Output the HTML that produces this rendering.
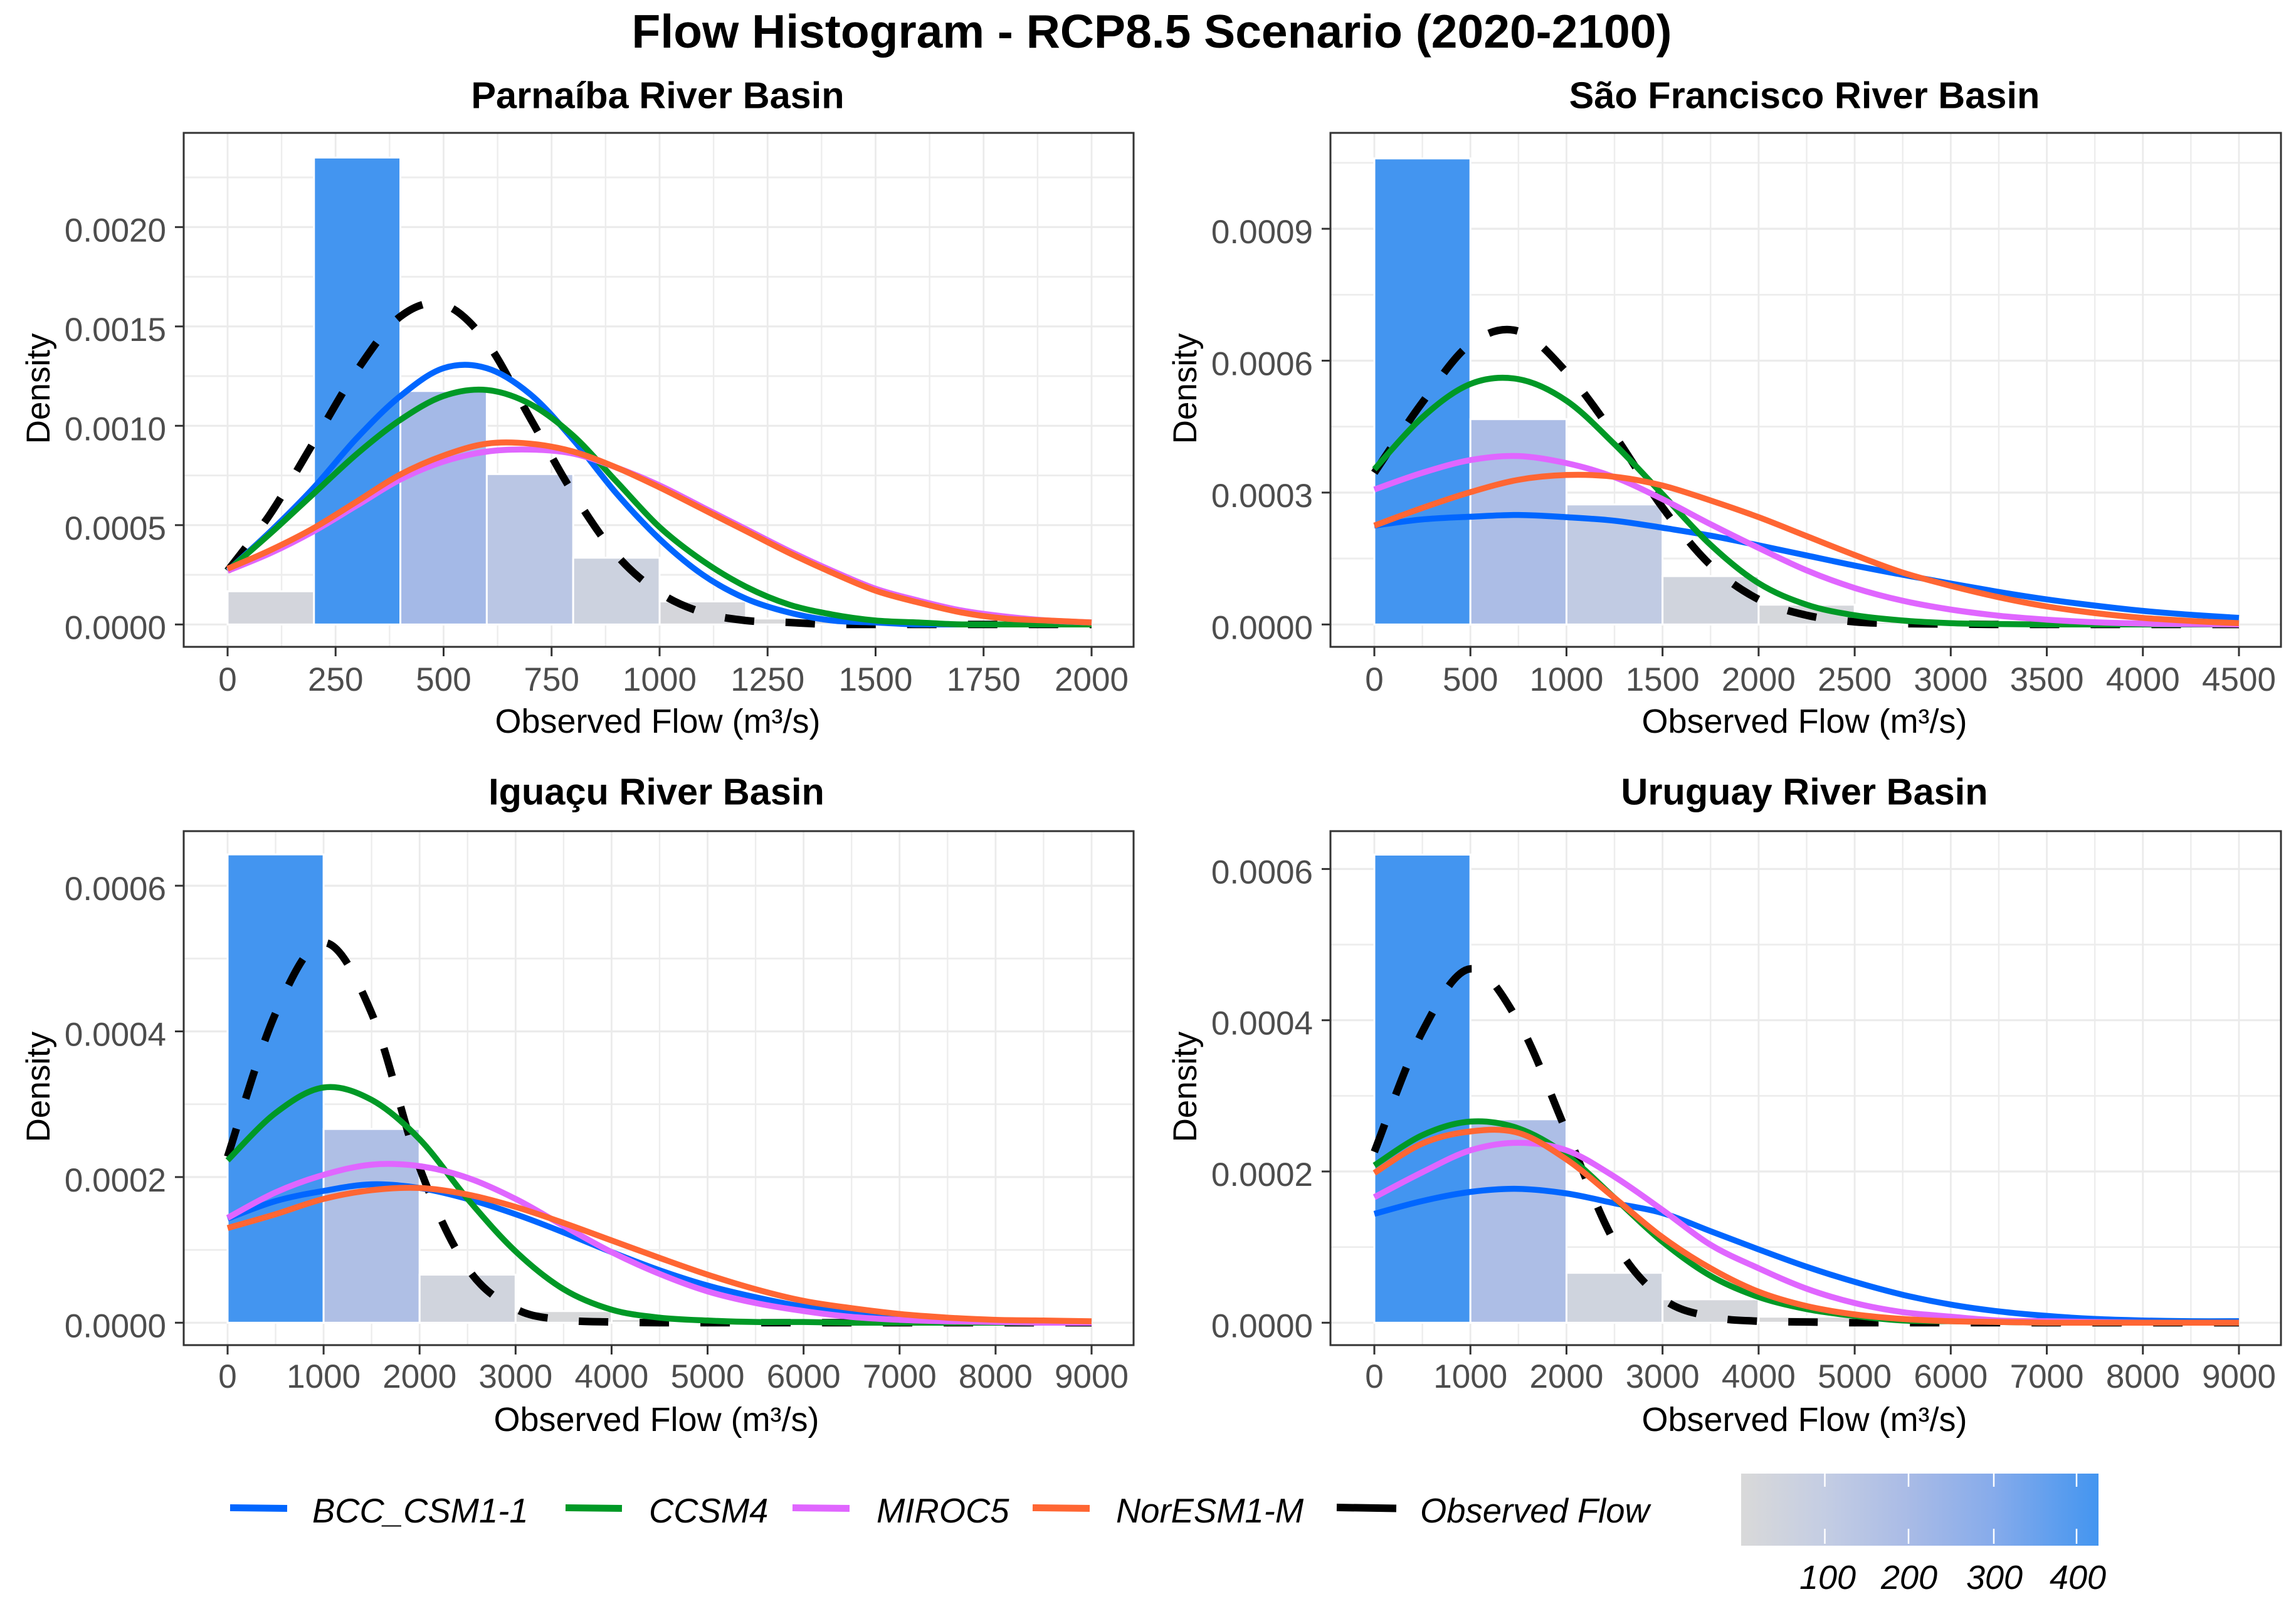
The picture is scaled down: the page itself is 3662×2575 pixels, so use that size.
<!DOCTYPE html>
<html lang="en">
<head>
<meta charset="utf-8">
<title>Flow Histogram - RCP8.5 Scenario (2020-2100)</title>
<style>
html,body{margin:0;padding:0;background:#fff;width:3662px;height:2575px;overflow:hidden}
svg{display:block}
text{font-family:"Liberation Sans",sans-serif}
</style>
</head>
<body>
<svg id="chart" xmlns="http://www.w3.org/2000/svg" width="3662" height="2575" viewBox="0 0 3662 2575">
<defs>
<linearGradient id="fillGrad" x1="0" x2="1" y1="0" y2="0">
<stop offset="0" stop-color="#D9D9D9"/>
<stop offset="0.233" stop-color="#C4CDE3"/>
<stop offset="0.468" stop-color="#A9BBE6"/>
<stop offset="0.707" stop-color="#86ABEB"/>
<stop offset="1" stop-color="#4395F0"/>
</linearGradient>
</defs>
<rect x="0" y="0" width="3662" height="2575" fill="#fff"/>
<text x="1837" y="76" font-size="75" font-weight="bold" text-anchor="middle" fill="#000">Flow Histogram - RCP8.5 Scenario (2020-2100)</text>

<g>
<line x1="367" x2="458" y1="2405.5" y2="2406.5" stroke="#0066FF" stroke-width="11"/>
<text x="498" y="2429" font-size="54.4" font-style="italic" fill="#000">BCC_CSM1-1</text>
<line x1="902" x2="992" y1="2405.5" y2="2406.5" stroke="#009926" stroke-width="11"/>
<text x="1035" y="2429" font-size="54.4" font-style="italic" fill="#000">CCSM4</text>
<line x1="1264" x2="1355" y1="2405.5" y2="2406.5" stroke="#E066FF" stroke-width="11"/>
<text x="1398" y="2429" font-size="54.4" font-style="italic" fill="#000">MIROC5</text>
<line x1="1647" x2="1738" y1="2405.5" y2="2406.5" stroke="#FF6633" stroke-width="11"/>
<text x="1780" y="2429" font-size="54.4" font-style="italic" fill="#000">NorESM1-M</text>
<line x1="2132" x2="2227" y1="2405" y2="2406.5" stroke="#000" stroke-width="12"/>
<text x="2265" y="2429" font-size="54.4" font-style="italic" fill="#000">Observed Flow</text>
</g>

<g>
<rect x="2777" y="2351" width="570" height="115" fill="url(#fillGrad)"/>
<line x1="2910.5" x2="2910.5" y1="2351" y2="2372" stroke="#fff" stroke-width="2.5"/>
<line x1="2910.5" x2="2910.5" y1="2439" y2="2463" stroke="#fff" stroke-width="2.5"/>
<line x1="3044" x2="3044" y1="2351" y2="2372" stroke="#fff" stroke-width="2.5"/>
<line x1="3044" x2="3044" y1="2439" y2="2463" stroke="#fff" stroke-width="2.5"/>
<line x1="3180" x2="3180" y1="2351" y2="2372" stroke="#fff" stroke-width="2.5"/>
<line x1="3180" x2="3180" y1="2439" y2="2463" stroke="#fff" stroke-width="2.5"/>
<line x1="3312" x2="3312" y1="2351" y2="2372" stroke="#fff" stroke-width="2.5"/>
<line x1="3312" x2="3312" y1="2439" y2="2463" stroke="#fff" stroke-width="2.5"/>
<text x="2915" y="2535" font-size="54" font-style="italic" text-anchor="middle" fill="#000">100</text>
<text x="3045" y="2535" font-size="54" font-style="italic" text-anchor="middle" fill="#000">200</text>
<text x="3181" y="2535" font-size="54" font-style="italic" text-anchor="middle" fill="#000">300</text>
<text x="3314" y="2535" font-size="54" font-style="italic" text-anchor="middle" fill="#000">400</text>
</g>
</svg>

<script>
// ---------- Parnaíba ----------
const parnaibaXTicks = [0,250,500,750,1000,1250,1500,1750,2000];
const parnaibaYTicks = ["0.0000","0.0005","0.0010","0.0015","0.0020"];
const parnaibaBinWidth = [200];
const parnaibaBins = [0.000167,0.00235,0.001175,0.000757,0.000336,0.000116,0.00003,0.000006];
const parnaibaFlow = [0,100,200,300,400,500,600,700,800,900,1000,1100,1200,1300,1400,1500,1600,1700,1800,1900,2000];
const parnaibaBcc = [0.00027,0.00047,0.00069,0.00094,0.00115,0.00129,0.00129,0.00116,0.00093,0.00066,0.00043,0.00025,0.00013,0.00006,0.00002,0.00001,0,0,0,0,0];
const parnaibaCcsm = [0.00027,0.00046,0.00066,0.00086,0.00103,0.00115,0.00118,0.00111,0.00095,0.00072,0.00049,0.00032,0.00019,0.0001,0.00005,0.00002,0.00001,0,0,0,0];
const parnaibaMiroc = [0.00027,0.00036,0.00047,0.0006,0.00073,0.00082,0.00087,0.00088,0.00086,0.00079,0.0007,0.00059,0.00048,0.00037,0.00027,0.00018,0.00012,0.00007,0.00004,0.00002,0.00001];
const parnaibaNor = [0.00028,0.000375,0.000486,0.00062,0.000755,0.00085,0.00091,0.00091,0.00087,0.00079,0.00069,0.00058,0.00047,0.00036,0.00026,0.00017,0.00011,0.00006,0.00003,0.00002,0.00001];
const parnaibaObs = [0.00027,0.00056,0.00092,0.00128,0.00155,0.00161,0.00142,0.00104,0.00066,0.00035,0.00016,0.00006,0.00002,0.00001,0,0,0,0,0,0,0];

// ---------- São Francisco ----------
const saoXTicks = [0,500,1000,1500,2000,2500,3000,3500,4000,4500];
const saoYTicks = ["0.0000","0.0003","0.0006","0.0009"];
const saoBinWidth = [500];
const saoBins = [0.00106,0.000467,0.000273,0.00011,0.000045,0.000006];
const saoFlow = [0,250,500,750,1000,1250,1500,1750,2000,2250,2500,2750,3000,3250,3500,3750,4000,4250,4500];
const saoBcc = [0.000225,0.000239,0.000245,0.000249,0.000244,0.000236,0.00022,0.000202,0.00018,0.000157,0.000134,0.000113,0.000093,0.000074,0.000057,0.000043,0.000031,0.000022,0.000015];
const saoCcsm = [0.000353,0.000471,0.000547,0.000558,0.000509,0.00041,0.000296,0.000181,0.000094,0.000045,0.000021,0.000009,0.000003,0.000001,0,0,0,0,0];
const saoMiroc = [0.000307,0.000345,0.000374,0.000383,0.000367,0.000335,0.000285,0.000228,0.000174,0.000123,0.000083,0.000054,0.000034,0.00002,0.000011,0.000005,0.000002,0.000001,0];
const saoNor = [0.000225,0.000265,0.000301,0.000329,0.00034,0.000336,0.000316,0.000282,0.000244,0.000201,0.000158,0.000118,0.000088,0.000062,0.000041,0.000026,0.000015,0.000008,0.000003];
const saoObs = [0.000345,0.000505,0.000638,0.000667,0.000574,0.00043,0.000266,0.000135,0.000057,0.000021,0.000006,0.000002,0.000001,0,0,0,0,0,0];

// ---------- Iguaçu ----------
const iguacuXTicks = [0,1000,2000,3000,4000,5000,6000,7000,8000,9000];
const iguacuYTicks = ["0.0000","0.0002","0.0004","0.0006"];
const iguacuBinWidth = [1000];
const iguacuBins = [0.000643,0.000266,0.000066,0.000016,0.000005];
const iguacuFlow = [0,500,1000,1500,2000,2500,3000,3500,4000,4500,5000,5500,6000,6500,7000,7500,8000,8500,9000];
const iguacuBcc = [0.000143,0.000167,0.000181,0.00019,0.000185,0.00017,0.000149,0.000124,0.000097,0.000072,0.000051,0.000035,0.000022,0.000013,0.000007,0.000004,0.000002,0.000001,0];
const iguacuCcsm = [0.000223,0.000288,0.000323,0.000306,0.000252,0.00017,0.000098,0.000046,0.000018,0.000007,0.000003,0.000001,0.000001,0,0,0,0,0,0];
const iguacuMiroc = [0.000144,0.000179,0.000203,0.000217,0.000215,0.000199,0.00017,0.000133,0.000097,0.000067,0.000043,0.000027,0.000016,0.000008,0.000004,0.000002,0.000001,0,0];
const iguacuNor = [0.00013,0.000149,0.00017,0.000182,0.000185,0.000176,0.000159,0.000137,0.000113,0.000089,0.000066,0.000046,0.00003,0.00002,0.000012,0.000007,0.000004,0.000003,0.000002];
const iguacuObs = [0.000228,0.000425,0.000522,0.000425,0.000213,0.000075,0.000019,0.000004,0.000001,0,0,0,0,0,0,0,0,0,0];

// ---------- Uruguay ----------
const uruguayXTicks = [0,1000,2000,3000,4000,5000,6000,7000,8000,9000];
const uruguayYTicks = ["0.0000","0.0002","0.0004","0.0006"];
const uruguayBinWidth = [1000];
const uruguayBins = [0.000619,0.000269,0.000066,0.000031,0.000008,0.000002];
const uruguayFlow = [0,500,1000,1500,2000,2500,3000,3500,4000,4500,5000,5500,6000,6500,7000,7500,8000,8500,9000];
const uruguayBcc = [0.000144,0.000161,0.000173,0.000177,0.000171,0.000158,0.000145,0.000121,0.000097,0.000074,0.000054,0.000037,0.000024,0.000015,0.000009,0.000005,0.000003,0.000002,0.000002];
const uruguayCcsm = [0.000208,0.000248,0.000266,0.000257,0.000222,0.000165,0.000107,0.000062,0.000034,0.000018,0.000009,0.000003,0.000002,0.000001,0,0,0,0,0];
const uruguayMiroc = [0.000166,0.000199,0.000228,0.000238,0.000228,0.000193,0.000149,0.000103,0.000072,0.000045,0.000026,0.000014,0.000008,0.000003,0.000002,0.000001,0,0,0];
const uruguayNor = [0.000198,0.000237,0.000253,0.000251,0.000216,0.000165,0.000113,0.000072,0.000041,0.000022,0.000011,0.000005,0.000002,0.000001,0,0,0,0,0];
const uruguayObs = [0.000226,0.000385,0.000468,0.000398,0.000253,0.000107,0.000032,0.000008,0.000002,0.000001,0,0,0,0,0,0,0,0,0];

const NS = 'http://www.w3.org/2000/svg';
const svg = document.getElementById('chart');

function mk(parent, tag, attrs, txt) {
  const el = document.createElementNS(NS, tag);
  for (const k in attrs) el.setAttribute(k, attrs[k]);
  if (txt !== undefined) el.textContent = txt;
  parent.appendChild(el);
  return el;
}

// colour scale for histogram fill: same stops as the colour bar
const fillStops = [[0,[217,217,217]],[0.233,[196,205,227]],[0.468,[169,187,230]],[0.707,[134,171,235]],[1,[67,149,240]]];
function fillFor(t) {
  for (let i = 1; i < fillStops.length; i++) {
    if (t <= fillStops[i][0]) {
      const a = fillStops[i-1], b = fillStops[i];
      const f = (t - a[0]) / (b[0] - a[0]);
      const c = a[1].map((v, j) => Math.round(v + (b[1][j] - v) * f));
      return 'rgb(' + c.join(',') + ')';
    }
  }
  return 'rgb(67,149,240)';
}

// smooth path through the sampled points (Catmull-Rom, clamped at the zero line)
function curvePath(xs, ys, fx, fy) {
  const P = xs.map((x, i) => [fx(x), fy(ys[i])]);
  const floor = fy(0);
  let d = 'M' + P[0][0].toFixed(1) + ' ' + P[0][1].toFixed(1);
  for (let i = 0; i < P.length - 1; i++) {
    const p0 = P[Math.max(0, i-1)], p1 = P[i], p2 = P[i+1], p3 = P[Math.min(P.length-1, i+2)];
    const c1x = p1[0] + (p2[0]-p0[0]) / 6, c1y = Math.min(floor, p1[1] + (p2[1]-p0[1]) / 6);
    const c2x = p2[0] - (p3[0]-p1[0]) / 6, c2y = Math.min(floor, p2[1] - (p3[1]-p1[1]) / 6);
    d += 'C' + c1x.toFixed(1) + ' ' + c1y.toFixed(1) + ' ' + c2x.toFixed(1) + ' ' + c2y.toFixed(1) + ' ' + p2[0].toFixed(1) + ' ' + p2[1].toFixed(1);
  }
  return d;
}

function drawPanel(o) {
  const g = mk(svg, 'g', {});
  
  

  const xMax = o.xTicks[o.xTicks.length - 1];
  const fx = v => o.x0 + v / xMax * (o.xEnd - o.x0);
  const fy = v => o.y0 - v * o.yk;
  const yStep = parseFloat(o.yTicks[1]);

  // minor grid
  for (let i = 0; i < o.xTicks.length - 1; i++) {
    const xv = (o.xTicks[i] + o.xTicks[i+1]) / 2;
    const l = mk(g, 'line', {x1:fx(xv), x2:fx(xv), y1:o.top, y2:o.bottom, stroke:'#EDEDED', 'stroke-width':2.4});
    
    
  }
  for (let i = 0; i < o.yTicks.length + 1; i++) {
    const yv = (i + 0.5) * yStep;
    if (fy(yv) <= o.top) continue;
    const l = mk(g, 'line', {x1:o.left, x2:o.right, y1:fy(yv), y2:fy(yv), stroke:'#EDEDED', 'stroke-width':2.8});
    
    
  }
  // major grid
  o.xTicks.forEach(xv => {
    const l = mk(g, 'line', {x1:fx(xv), x2:fx(xv), y1:o.top, y2:o.bottom, stroke:'#EBEBEB', 'stroke-width':2.8});
    
    
  });
  o.yTicks.forEach(lbl => {
    const yv = parseFloat(lbl);
    const l = mk(g, 'line', {x1:o.left, x2:o.right, y1:fy(yv), y2:fy(yv), stroke:'#EBEBEB', 'stroke-width':3.2});
    
    
  });

  // histogram bars
  const maxBin = Math.max.apply(null, o.bins);
  o.bins.forEach((v, i) => {
    const x1 = fx(i * o.binWidth[0]), x2 = fx((i + 1) * o.binWidth[0]);
    const r = mk(g, 'rect', {x:x1, y:fy(v), width:x2 - x1, height:v * o.yk, fill:fillFor(v / maxBin), stroke:'#fff', 'stroke-width':3});
    
    
  });

  // observed density first, models on top
  const obs = mk(g, 'path', {d:curvePath(o.flow, o.series.obs, fx, fy), fill:'none', stroke:'#000', 'stroke-width':12, 'stroke-dasharray':'47 50', 'stroke-linejoin':'round'});
  
  
  const bcc = mk(g, 'path', {d:curvePath(o.flow, o.series.bcc, fx, fy), fill:'none', stroke:'#0066FF', 'stroke-width':9.5});
  
  
  const ccsm = mk(g, 'path', {d:curvePath(o.flow, o.series.ccsm, fx, fy), fill:'none', stroke:'#009926', 'stroke-width':9.5});
  
  
  const miroc = mk(g, 'path', {d:curvePath(o.flow, o.series.miroc, fx, fy), fill:'none', stroke:'#E066FF', 'stroke-width':9.5});
  
  
  const nor = mk(g, 'path', {d:curvePath(o.flow, o.series.nor, fx, fy), fill:'none', stroke:'#FF6633', 'stroke-width':9.5});
  
  

  // border
  const border = mk(g, 'rect', {x:o.left, y:o.top, width:o.right - o.left, height:o.bottom - o.top, fill:'none', stroke:'#333333', 'stroke-width':3});
  
  

  // x ticks and labels
  o.xTicks.forEach(xv => {
    const t = mk(g, 'line', {x1:fx(xv), x2:fx(xv), y1:o.bottom, y2:o.bottom + 15, stroke:'#333333', 'stroke-width':3});
    
    
    const lab = mk(g, 'text', {x:fx(xv), y:o.bottom + o.xLabelGap, 'font-size':53, 'text-anchor':'middle', fill:'#4D4D4D'}, String(xv));
    
    
  });
  // y ticks and labels
  o.yTicks.forEach(lbl => {
    const yv = parseFloat(lbl);
    const t = mk(g, 'line', {x1:o.left - 14, x2:o.left, y1:fy(yv), y2:fy(yv), stroke:'#333333', 'stroke-width':3});
    
    
    const lab = mk(g, 'text', {x:o.left - 28, y:fy(yv) + 23, 'font-size':53, 'text-anchor':'end', fill:'#4D4D4D'}, lbl);
    
    
  });

  // titles
  const title = mk(g, 'text', {x:o.cx, y:o.top - o.titleGap, 'font-size':59.5, 'font-weight':'bold', 'text-anchor':'middle', fill:'#000'}, o.title);
  
  
  const xt = mk(g, 'text', {x:o.cx, y:o.bottom + 137, 'font-size':54, 'text-anchor':'middle', fill:'#000'}, 'Observed Flow (m\u00B3/s)');
  
  
  const yx = o.left - 214, ym = (o.top + o.bottom) / 2 - 2;
  const yt = mk(g, 'text', {x:yx, y:ym, 'font-size':53, 'text-anchor':'middle', fill:'#000', transform:'rotate(-90 ' + yx + ' ' + ym + ')'}, 'Density');
  
  
}

drawPanel({id:'parnaiba', title:'Parna\u00EDba River Basin', left:293, right:1808, top:212, bottom:1032, x0:363, xEnd:1741, y0:996.3, yk:317000, cx:1049, titleGap:39.5, xLabelGap:70,
  xTicks:parnaibaXTicks, yTicks:parnaibaYTicks, binWidth:parnaibaBinWidth, bins:parnaibaBins, flow:parnaibaFlow,
  series:{bcc:parnaibaBcc, ccsm:parnaibaCcsm, miroc:parnaibaMiroc, nor:parnaibaNor, obs:parnaibaObs}});
drawPanel({id:'sao-francisco', title:'S\u00E3o Francisco River Basin', left:2122, right:3638, top:212, bottom:1032, x0:2192, xEnd:3571, y0:996.3, yk:701444, cx:2878, titleGap:39.5, xLabelGap:70,
  xTicks:saoXTicks, yTicks:saoYTicks, binWidth:saoBinWidth, bins:saoBins, flow:saoFlow,
  series:{bcc:saoBcc, ccsm:saoCcsm, miroc:saoMiroc, nor:saoNor, obs:saoObs}});
drawPanel({id:'iguacu', title:'Igua\u00E7u River Basin', left:293, right:1808, top:1326, bottom:2146, x0:363, xEnd:1741, y0:2110.3, yk:1162000, cx:1047, titleGap:42.5, xLabelGap:68,
  xTicks:iguacuXTicks, yTicks:iguacuYTicks, binWidth:iguacuBinWidth, bins:iguacuBins, flow:iguacuFlow,
  series:{bcc:iguacuBcc, ccsm:iguacuCcsm, miroc:iguacuMiroc, nor:iguacuNor, obs:iguacuObs}});
drawPanel({id:'uruguay', title:'Uruguay River Basin', left:2122, right:3638, top:1326, bottom:2146, x0:2192, xEnd:3571, y0:2110.3, yk:1206500, cx:2878, titleGap:42.5, xLabelGap:68,
  xTicks:uruguayXTicks, yTicks:uruguayYTicks, binWidth:uruguayBinWidth, bins:uruguayBins, flow:uruguayFlow,
  series:{bcc:uruguayBcc, ccsm:uruguayCcsm, miroc:uruguayMiroc, nor:uruguayNor, obs:uruguayObs}});
</script>
</body>
</html>
